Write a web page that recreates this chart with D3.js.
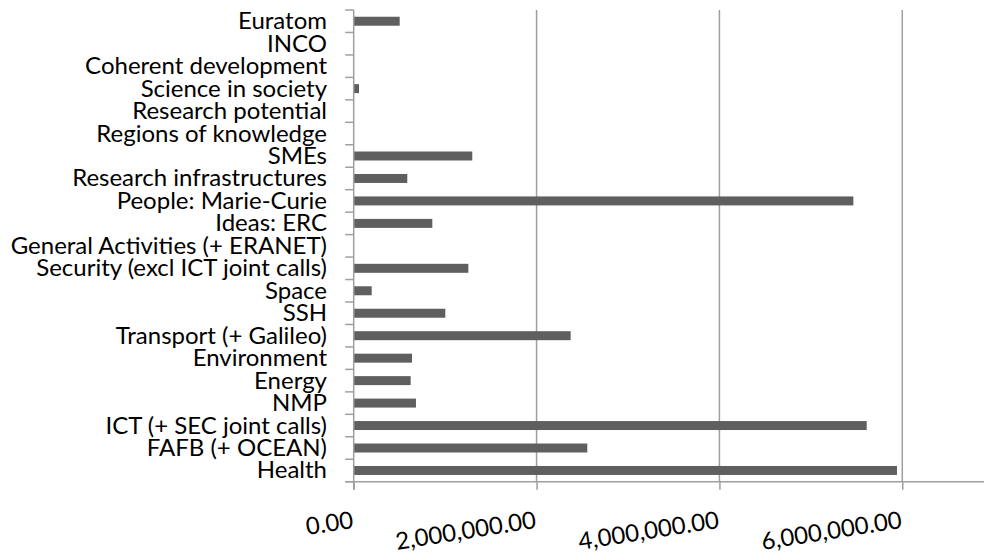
<!DOCTYPE html>
<html>
<head>
<meta charset="utf-8">
<script src="https://cdn.jsdelivr.net/npm/d3@7"></script>
<style>
  html, body { margin: 0; padding: 0; background: #fff; }
  svg { display: block; }
  text { font-family: Lato, "Open Sans", "Liberation Sans", sans-serif; fill: #000; }
</style>
</head>
<body>
<svg id="chart" width="984" height="554"></svg>
<script>
// FP7 programme areas, listed top to bottom
const categories = [
  "Euratom",
  "INCO",
  "Coherent development",
  "Science in society",
  "Research potential",
  "Regions of knowledge",
  "SMEs",
  "Research infrastructures",
  "People: Marie-Curie",
  "Ideas: ERC",
  "General Activities (+ ERANET)",
  "Security (excl ICT joint calls)",
  "Space",
  "SSH",
  "Transport (+ Galileo)",
  "Environment",
  "Energy",
  "NMP",
  "ICT (+ SEC joint calls)",
  "FAFB (+ OCEAN)",
  "Health"
];

// Amount per area, same order as categories
const values = [
  503000, 0, 0, 58000, 0, 0,
  1297000, 586000, 5465000, 860000, 0,
  1254000, 197000, 1002000, 2373000,
  638000, 623000, 681000, 5611000, 2555000, 5942000
];

const xTicks = [0, 2000000, 4000000, 6000000];
const xMax = 7000000;

const svg = d3.select("#chart");

const plotLeft = 353.7, plotTop = 10, plotBottom = 481.7;
const x = d3.scaleLinear().domain([0, xMax]).range([plotLeft, plotLeft + 640]);
const y = d3.scaleBand().domain(categories).range([plotTop, plotBottom])
  .paddingInner(0.6).paddingOuter(0.3);

const gridColor = "#9f9f9f";

// vertical gridlines
svg.append("g").selectAll("line").data(xTicks.slice(1)).join("line")
  .attr("x1", d => x(d)).attr("x2", d => x(d))
  .attr("y1", plotTop).attr("y2", plotBottom)
  .attr("stroke", gridColor).attr("stroke-width", 1.5);

// bars
svg.append("g").selectAll("rect").data(categories).join("rect")
  .attr("x", x(0))
  .attr("y", d => y(d))
  .attr("width", (d, i) => x(values[i]) - x(0))
  .attr("height", y.bandwidth())
  .attr("fill", "#5f5f5f");

// category axis with ticks on the band boundaries
const step = y.step();
const catAxis = svg.append("g");
catAxis.append("line")
  .attr("x1", x(0)).attr("x2", x(0))
  .attr("y1", plotTop).attr("y2", plotBottom + 8)
  .attr("stroke", gridColor).attr("stroke-width", 1.5);
catAxis.selectAll("line.tick").data(d3.range(categories.length + 1)).join("line")
  .attr("class", "tick")
  .attr("x1", x(0) - 8.5).attr("x2", x(0))
  .attr("y1", i => plotTop + i * step).attr("y2", i => plotTop + i * step)
  .attr("stroke", gridColor).attr("stroke-width", 1.5);
catAxis.selectAll("text").data(categories).join("text")
  .attr("x", 327)
  .attr("y", d => y(d) + y.bandwidth() / 2 + 8)
  .attr("text-anchor", "end")
  .attr("font-size", "24px")
  .text(d => d);

// value axis along the bottom
const xAxis = d3.axisBottom(x).tickValues(xTicks).tickFormat(d3.format(",.2f"))
  .tickSize(8).tickSizeOuter(0).tickPadding(0);
const gx = svg.append("g").attr("transform", `translate(0,${plotBottom})`).call(xAxis);
gx.select(".domain").remove();
gx.insert("line", ":first-child")
  .attr("x1", x(0) - 8.5).attr("x2", 984)
  .attr("stroke", gridColor).attr("stroke-width", 1.5);
gx.selectAll(".tick line").attr("stroke", gridColor).attr("stroke-width", 1.5);
gx.selectAll(".tick text")
  .attr("font-family", "Lato, 'Open Sans', sans-serif")
  .attr("font-size", "24px")
  .attr("fill", "#000")
  .attr("text-anchor", "end")
  .attr("dy", null)
  .attr("y", 0)
  .attr("transform", "translate(0,46) rotate(-9)");
</script>
</body>
</html>
